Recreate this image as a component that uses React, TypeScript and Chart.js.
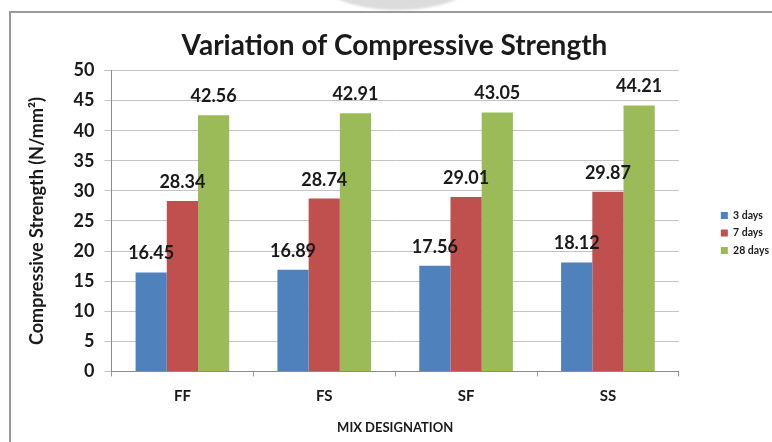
import React, { useEffect, useRef } from "react";
import { Chart, registerables } from "chart.js";

Chart.register(...registerables);

const categories = ["FF", "FS", "SF", "SS"];
const seriesNames = ["3 days", "7 days", "28 days"];
const days3 = [16.45, 16.89, 17.56, 18.12];
const days7 = [28.34, 28.74, 29.01, 29.87];
const days28 = [42.56, 42.91, 43.05, 44.21];
const seriesColors = ["#4F81BD", "#C0504D", "#9BBB59"];
const yTicks = [0, 5, 10, 15, 20, 25, 30, 35, 40, 45, 50];

const FONT = "Lato, 'Liberation Sans', sans-serif";

const valueLabels = {
  id: "valueLabels",
  afterDatasetsDraw(chart: any) {
    const ctx = chart.ctx;
    ctx.save();
    ctx.font = "bold 18px " + FONT;
    ctx.fillStyle = "#1a1a1a";
    ctx.textAlign = "center";
    ctx.textBaseline = "alphabetic";
    chart.data.datasets.forEach((ds: any, i: number) => {
      const meta = chart.getDatasetMeta(i);
      meta.data.forEach((el: any, j: number) => {
        ctx.fillText(Number(ds.data[j]).toFixed(2), el.x, el.y - 13);
      });
    });
    ctx.restore();
  },
};

export default function App() {
  const ref = useRef<HTMLCanvasElement>(null);
  useEffect(() => {
    document.body.style.margin = "0";
    const chart = new Chart(ref.current!, {
      type: "bar",
      data: {
        labels: categories,
        datasets: [days3, days7, days28].map((d, i) => ({
          label: seriesNames[i],
          data: d,
          backgroundColor: seriesColors[i],
          borderWidth: 0,
          categoryPercentage: 0.66,
          barPercentage: 1.0,
        })),
      },
      options: {
        responsive: false,
        animation: false,
        layout: { padding: { top: 19, left: 10, right: -7, bottom: 2 } },
        plugins: {
          title: {
            display: true,
            text: "Variation of Compressive Strength",
            font: { family: FONT, size: 28, weight: "bold" },
            color: "#1a1a1a",
            padding: { top: 10, bottom: 8 },
          },
          legend: {
            position: "right",
            title: { display: true, text: "", padding: 0, font: { size: 6 } },
            labels: {
              boxWidth: 7,
              boxHeight: 7,
              padding: 7,
              color: "#1a1a1a",
              font: { family: FONT, size: 10.5, weight: "bold" },
            },
          },
          tooltip: { enabled: false },
        },
        scales: {
          x: {
            grid: { display: true, drawOnChartArea: false, drawTicks: true, tickLength: 5, color: "#9a9a9a" },
            border: { display: true, color: "#8a8a8a" },
            ticks: { color: "#1a1a1a", padding: 11, font: { family: FONT, size: 15, weight: "bold" } },
            title: {
              display: true,
              text: "MIX DESIGNATION",
              color: "#1a1a1a",
              font: { family: FONT, size: 13, weight: "bold" },
              padding: { top: 4, bottom: 4 },
            },
          },
          y: {
            min: 0,
            max: 50,
            afterBuildTicks: (s: any) => {
              s.ticks = yTicks.map((v) => ({ value: v }));
            },
            grid: { color: "#c4c4c4", tickLength: 7 },
            border: { display: true, color: "#8a8a8a" },
            ticks: { color: "#1a1a1a", padding: 10, font: { family: FONT, size: 18, weight: "bold" } },
            title: {
              display: true,
              text: "Compressive Strength (N/mm\u00B2)",
              color: "#1a1a1a",
              font: { family: FONT, size: 18, weight: "bold" },
              padding: { top: 16, bottom: 16 },
            },
          },
          yRightSpace: {
            position: "right",
            display: true,
            grid: { display: false, drawTicks: false },
            border: { display: false },
            ticks: { display: false },
            afterFit: (s: any) => {
              s.width = 35;
            },
          },
        },
      },
      plugins: [valueLabels],
    } as any);
    return () => chart.destroy();
  }, []);
  return (
    <div style={{ position: "fixed", left: 0, top: 0, width: 772, height: 442, background: "#fff", overflow: "hidden" }}>
      <div
        style={{
          position: "absolute",
          left: 310,
          top: -70,
          width: 175,
          height: 80,
          borderRadius: "50%",
          background: "#dcdcdc",
          filter: "blur(1px)",
        }}
      />
      <div
        style={{
          position: "absolute",
          left: 9,
          top: 11,
          width: 820,
          height: 500,
          border: "2px solid #9a9a9a",
          boxSizing: "border-box",
        }}
      />
      <canvas ref={ref} width={772} height={442} style={{ position: "absolute", left: 0, top: 0 }} />
    </div>
  );
}
